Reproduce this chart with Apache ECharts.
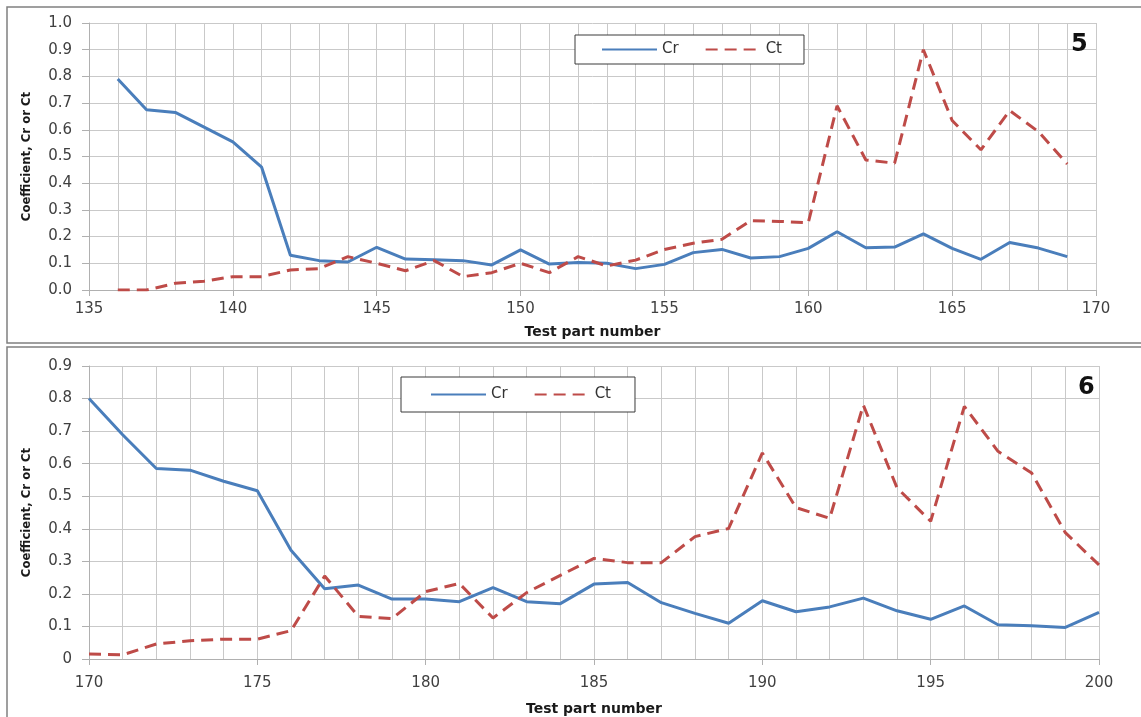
<!DOCTYPE html>
<html>
<head>
<meta charset="utf-8">
<script src="https://cdn.jsdelivr.net/npm/echarts@6/dist/echarts.min.js"></script>
<style>
html,body{margin:0;padding:0;background:#fff;}
#c{width:1141px;height:717px;}
</style>
</head>
<body>
<div id="c"></div>
<script>
// Panel 5
const parts5 = [136,137,138,139,140,141,142,143,144,145,146,147,148,149,150,151,152,153,154,155,156,157,158,159,160,161,162,163,164,165,166,167,168,169];
const cr5 = [0.79,0.675,0.665,0.61,0.555,0.46,0.13,0.11,0.105,0.16,0.116,0.113,0.11,0.094,0.15,0.097,0.103,0.10,0.08,0.096,0.14,0.152,0.12,0.125,0.156,0.218,0.158,0.161,0.21,0.156,0.115,0.178,0.157,0.125];
const ct5 = [0.0,0.0,0.025,0.033,0.05,0.05,0.075,0.08,0.125,0.10,0.072,0.11,0.05,0.065,0.10,0.065,0.125,0.09,0.112,0.152,0.175,0.19,0.26,0.257,0.252,0.69,0.487,0.475,0.90,0.635,0.525,0.672,0.593,0.472];
// Panel 6
const parts6 = [170,171,172,173,174,175,176,177,178,179,180,181,182,183,184,185,186,187,188,189,190,191,192,193,194,195,196,197,198,199,200];
const cr6 = [0.80,0.689,0.585,0.58,0.546,0.517,0.334,0.216,0.227,0.184,0.184,0.176,0.219,0.176,0.17,0.23,0.235,0.173,0.14,0.11,0.179,0.145,0.16,0.187,0.148,0.122,0.163,0.105,0.102,0.097,0.143];
const ct6 = [0.015,0.013,0.046,0.056,0.061,0.061,0.087,0.255,0.131,0.124,0.207,0.232,0.126,0.204,0.257,0.309,0.296,0.296,0.376,0.401,0.633,0.465,0.432,0.78,0.526,0.423,0.776,0.638,0.571,0.388,0.289];
const seriesNames = ['Cr','Ct'];
const xTitle = 'Test part number';
const yTitle = 'Coefficient, Cr or Ct';
const panelLabels = ['5','6'];

const pairs = (xs, ys) => xs.map((x, i) => [x, ys[i]]);
const gridColor = '#c9c9c9';
const labelColor = '#404040';
const blue = '#4a7ebb';
const red = '#be4b48';

function xAxis(gridIndex, min, max, labelMargin, nameGap) {
  return {
    type: 'value', gridIndex, min, max, interval: 5,
    name: xTitle, nameLocation: 'middle', nameGap,
    nameTextStyle: {fontFamily: 'DejaVu Sans', fontWeight: 'bold', fontSize: 14, color: '#1a1a1a'},
    axisLine: {show: true, lineStyle: {color: '#b0b0b0', width: 1}},
    axisTick: {show: true, length: 6, lineStyle: {color: '#b0b0b0'}},
    axisLabel: {fontFamily: 'DejaVu Sans', fontSize: 15, color: labelColor, margin: labelMargin},
    splitLine: {show: true, lineStyle: {color: gridColor, width: 1}},
    minorTick: {show: false, splitNumber: 5},
    minorSplitLine: {show: true, lineStyle: {color: gridColor, width: 1}}
  };
}
function yAxis(gridIndex, max, fmt) {
  return {
    type: 'value', gridIndex, min: 0, max, interval: 0.1,
    name: yTitle, nameLocation: 'middle', nameGap: 56,
    nameTextStyle: {fontFamily: "'Liberation Sans Narrow','DejaVu Sans Condensed',sans-serif", fontWeight: 'bold', fontSize: 13, color: '#1a1a1a'},
    axisLine: {show: true, lineStyle: {color: '#b0b0b0', width: 1}},
    axisTick: {show: true, length: 7, lineStyle: {color: '#b0b0b0'}},
    axisLabel: {fontFamily: 'DejaVu Sans', fontSize: 15, color: labelColor, margin: 17, formatter: fmt},
    splitLine: {show: true, lineStyle: {color: gridColor, width: 1}}
  };
}
function line(name, idx, data, color, dashed) {
  return {
    type: 'line', name, xAxisIndex: idx, yAxisIndex: idx, data,
    symbol: 'none', showSymbol: false,
    lineStyle: {color, width: 3, type: dashed ? [12, 7] : 'solid'},
    itemStyle: {color}
  };
}
function legend(left, top, padding, gap) {
  return {
    data: seriesNames, left, top, orient: 'horizontal',
    padding, itemGap: gap, itemWidth: 55, itemHeight: 14,
    itemStyle: {opacity: 0},
    borderColor: '#3a3a3a', borderWidth: 1, backgroundColor: '#fff',
    textStyle: {fontFamily: 'DejaVu Sans', fontSize: 15, color: '#333'},
    selectedMode: false
  };
}

const chart = echarts.init(document.getElementById('c'), null, {renderer: 'canvas'});
chart.setOption({
  animation: false,
  backgroundColor: '#fff',
  graphic: [
    {type: 'rect', shape: {x: 7, y: 7, width: 1150, height: 336}, style: {fill: 'none', stroke: '#808080', lineWidth: 1.5}, z: 0},
    {type: 'rect', shape: {x: 7, y: 347, width: 1150, height: 400}, style: {fill: 'none', stroke: '#808080', lineWidth: 1.5}, z: 0},
    {type: 'text', left: 1071, top: 33, style: {text: panelLabels[0], font: 'bold 24px "DejaVu Sans"', fill: '#111'}, z: 10},
    {type: 'text', left: 1078, top: 376, style: {text: panelLabels[1], font: 'bold 24px "DejaVu Sans"', fill: '#111'}, z: 10}
  ],
  grid: [
    {left: 89, top: 23, width: 1007, height: 267, containLabel: false},
    {left: 89, top: 366, width: 1010, height: 294, containLabel: false}
  ],
  xAxis: [xAxis(0, 135, 170, 12, 35), xAxis(1, 170, 200, 17, 43)],
  yAxis: [
    yAxis(0, 1.0, v => v.toFixed(1)),
    yAxis(1, 0.9, v => (Math.abs(v) < 1e-9 ? '0' : v.toFixed(1)))
  ],
  legend: [
    legend(575, 35, [7, 22, 7, 26], 26),
    legend(401, 377, [10, 24, 10, 29], 26)
  ],
  series: [
    line(seriesNames[0], 0, pairs(parts5, cr5), blue, false),
    line(seriesNames[1], 0, pairs(parts5, ct5), red, true),
    line(seriesNames[0], 1, pairs(parts6, cr6), blue, false),
    line(seriesNames[1], 1, pairs(parts6, ct6), red, true)
  ]
});
</script>
</body>
</html>
